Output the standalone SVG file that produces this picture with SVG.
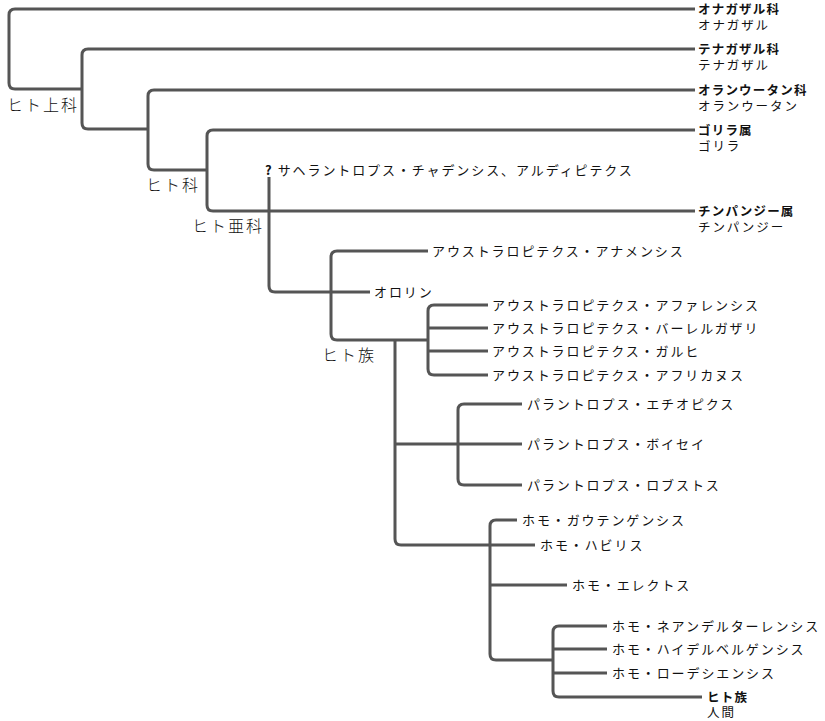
<svg xmlns="http://www.w3.org/2000/svg" width="825" height="721" viewBox="0 0 825 721">
<style>
.c{fill:none;stroke:#555;stroke-width:3;stroke-linejoin:round}
text{font-family:"Noto Sans CJK JP",sans-serif;font-size:13px;fill:#111;letter-spacing:1.9px}
.b{font-weight:bold;letter-spacing:1.2px}
.p{font-size:12.5px}
.l{font-size:16px;font-weight:300;letter-spacing:2px}
</style>
<rect width="825" height="721" fill="#fff"/>
<g id="connectors">
<path class="c" d="M695 9H15Q9 9 9 15V83Q9 89 15 89H82"/>
<path class="c" d="M695 49H88Q82 49 82 55V123Q82 129 88 129H148"/>
<path class="c" d="M695 90H154Q148 90 148 96V164Q148 170 154 170H207"/>
<path class="c" d="M695 130H213Q207 130 207 136V205Q207 211 213 211H695"/>
<path class="c" d="M269 177V286Q269 292 275 292H370"/>
<path class="c" d="M428 251H337Q331 251 331 257V334Q331 340 337 340H428"/>
<path class="c" d="M488 305H434Q428 305 428 311V369Q428 375 434 375H488M428 328H488M428 351H488"/>
<path class="c" d="M395 340V539Q395 545 401 545H490M395 444H458"/>
<path class="c" d="M522 404H464Q458 404 458 410V479Q458 485 464 485H522M458 444H522"/>
<path class="c" d="M517 520H496Q490 520 490 526V654Q490 660 496 660H553M490 545H535M490 585H567"/>
<path class="c" d="M607 626H559Q553 626 553 632V691Q553 697 559 697H702M553 649H607M553 673H607"/>
</g>
<g id="n-onaga"><text class="b p" x="698" y="14">オナガザル科</text><text class="p" x="698" y="29.5">オナガザル</text></g>
<g id="n-tenaga"><text class="b p" x="698" y="54">テナガザル科</text><text class="p" x="698" y="69.5">テナガザル</text></g>
<g id="n-orang"><text class="b p" x="698" y="95">オランウータン科</text><text class="p" x="698" y="110.5">オランウータン</text></g>
<g id="n-gorilla"><text class="b p" x="698" y="135">ゴリラ属</text><text class="p" x="698" y="150.5">ゴリラ</text></g>
<g id="n-chimp"><text class="b p" x="698" y="216">チンパンジー属</text><text class="p" x="698" y="231.5">チンパンジー</text></g>
<g id="l-hominoidea"><text class="l" x="7" y="111">ヒト上科</text></g>
<g id="l-hominidae"><text class="l" x="146" y="191">ヒト科</text></g>
<g id="l-homininae"><text class="l" x="192" y="232">ヒト亜科</text></g>
<g id="l-hominini"><text class="l" x="322" y="361">ヒト族</text></g>
<g id="n-sahel"><text x="265" y="175"><tspan class="b">?</tspan> サヘラントロプス・チャデンシス、アルディピテクス</text></g>
<g id="n-orrorin"><text x="374" y="297">オロリン</text></g>
<g id="n-anam"><text x="432" y="256">アウストラロピテクス・アナメンシス</text></g>
<g id="n-afar"><text x="492" y="310">アウストラロピテクス・アファレンシス</text></g>
<g id="n-bahr"><text x="492" y="333">アウストラロピテクス・バーレルガザリ</text></g>
<g id="n-garhi"><text x="492" y="356">アウストラロピテクス・ガルヒ</text></g>
<g id="n-afri"><text x="492" y="380">アウストラロピテクス・アフリカヌス</text></g>
<g id="n-aeth"><text x="527" y="409">パラントロプス・エチオピクス</text></g>
<g id="n-boisei"><text x="527" y="449">パラントロプス・ボイセイ</text></g>
<g id="n-robust"><text x="527" y="490">パラントロプス・ロブストス</text></g>
<g id="n-gaut"><text x="522" y="525">ホモ・ガウテンゲンシス</text></g>
<g id="n-habilis"><text x="540" y="550">ホモ・ハビリス</text></g>
<g id="n-erectus"><text x="572" y="590">ホモ・エレクトス</text></g>
<g id="n-nean"><text x="612" y="631">ホモ・ネアンデルターレンシス</text></g>
<g id="n-heid"><text x="612" y="654">ホモ・ハイデルベルゲンシス</text></g>
<g id="n-rhod"><text x="612" y="678">ホモ・ローデシエンシス</text></g>
<g id="n-human"><text class="b p" x="707" y="702">ヒト族</text><text class="p" x="707" y="717">人間</text></g>
</svg>
